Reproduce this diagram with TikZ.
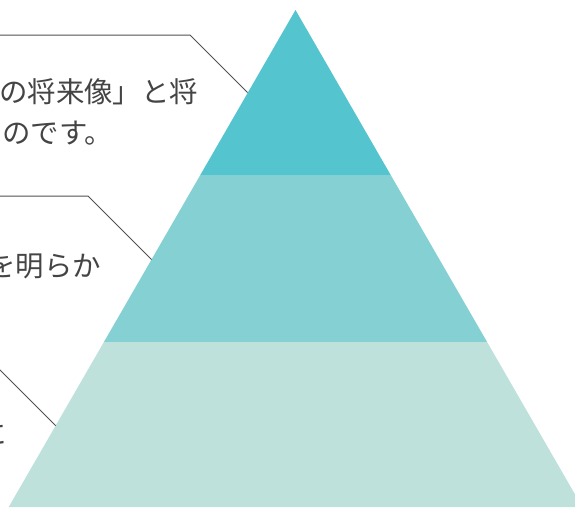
\documentclass[tikz,border=0pt]{standalone}
\usepackage{fontspec}
\newfontfamily\jpfont{Noto Sans CJK JP}
\usetikzlibrary{positioning}
\definecolor{tiertop}{HTML}{54C4CE}
\definecolor{tiermid}{HTML}{85D0D3}
\definecolor{tierbase}{HTML}{BEE1DC}
\definecolor{notegray}{HTML}{444444}
\definecolor{leadergray}{HTML}{505050}
\tikzset{
    note/.style={font=\jpfont\fontsize{28.4}{34}\selectfont, text=notegray, inner sep=0pt, anchor=base west},
    leader/.style={draw=leadergray, line width=1pt}
}

\begin{document}
\begin{tikzpicture}[x=1pt, y=-1pt]
        \clip (0, 0) rectangle (575, 507);

        \coordinate (apex) at (295.5, 10);
        \coordinate (topL) at (200.3, 175);
        \coordinate (topR) at (390.7, 175);
        \coordinate (midL) at (103.9, 342);
        \coordinate (midR) at (487.1, 342);
        \coordinate (baseL) at (8.7, 507);
        \coordinate (baseR) at (582.3, 507);

        \fill [tiertop] (apex) -- (topR) -- (topL) -- cycle;
        \fill [tiermid] (topL) -- (topR) -- (midR) -- (midL) -- cycle;
        \fill [tierbase] (midL) -- (midR) -- (baseR) -- (baseL) -- cycle;

        \coordinate (lead1) at (-5, 35);
        \coordinate (bend1) at (190, 35);
        \coordinate (hit1) at (247.6, 92.6);
        \coordinate (lead2) at (-5, 196);
        \coordinate (bend2) at (88, 196);
        \coordinate (hit2) at (151.6, 259.6);
        \coordinate (lead3) at (-20, 350);
        \coordinate (hit3) at (55.7, 425.7);

        \draw [leader] (lead1) -- (bend1) -- (hit1);
        \draw [leader] (lead2) -- (bend2) -- (hit2);
        \draw [leader] (lead3) -- (hit3);

        \node [note] (vision1) at (-1, 102) {の将来像」と将};
        \node [note] (vision2) at (2, 143) {のです。};
        \node [note] (goal1) at (-12.8, 276) {を明らか};
        \node [note] (action1) at (-22, 444) {に};
    \end{tikzpicture}
\end{document}
